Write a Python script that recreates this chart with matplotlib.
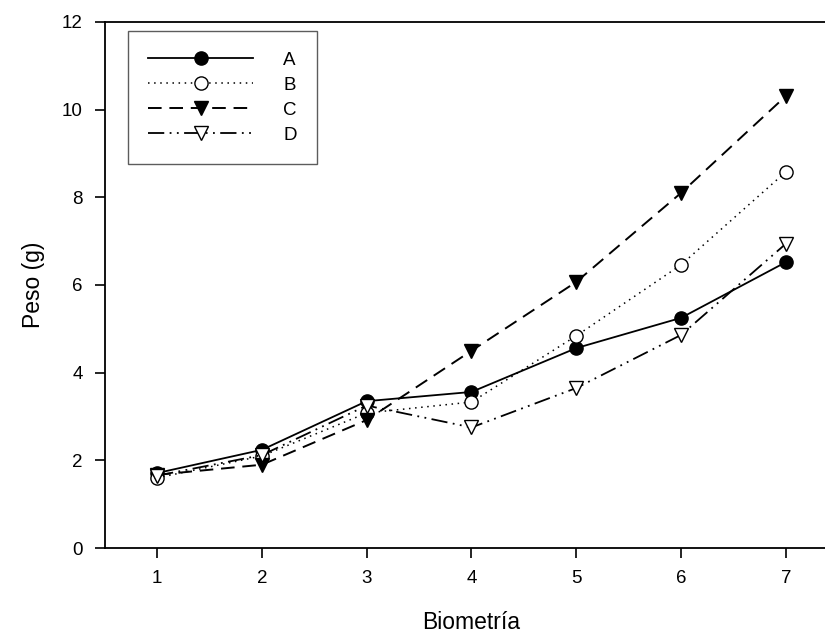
import matplotlib.pyplot as plt

plt.rcParams['font.family'] = ['Liberation Sans', 'DejaVu Sans']

# datos
biometria = [1, 2, 3, 4, 5, 6, 7]
peso_a = [1.71, 2.24, 3.35, 3.56, 4.56, 5.25, 6.52]
peso_b = [1.60, 2.10, 3.08, 3.33, 4.84, 6.46, 8.58]
peso_c = [1.67, 1.90, 2.92, 4.50, 6.07, 8.10, 10.31]
peso_d = [1.65, 2.12, 3.25, 2.75, 3.65, 4.86, 6.94]
y_ticks = [0, 2, 4, 6, 8, 10, 12]

fig = plt.figure(figsize=(8.25, 6.37), dpi=100)
ax = fig.add_axes([0.127, 0.1397, 0.889, 0.8258])

ax.plot(biometria, peso_a, color='black', linestyle='-', linewidth=1.3,
        marker='o', markersize=9.5, markerfacecolor='black', label='A')
ax.plot(biometria, peso_b, color='black', linestyle=(0, (1, 3)), linewidth=1.1,
        marker='o', markersize=9.5, markerfacecolor='white', label='B')
ax.plot(biometria, peso_c, color='black', linestyle=(0, (7, 4)), linewidth=1.4,
        marker='v', markersize=9.5, markerfacecolor='black', label='C')
ax.plot(biometria, peso_d, color='black', linestyle=(0, (9, 3, 1, 3, 1, 3)), linewidth=1.3,
        marker='v', markersize=9.5, markerfacecolor='white', label='D')

ax.set_xlim(0.5, 7.5)
ax.set_ylim(0, 12)
ax.set_xticks(biometria)
ax.set_yticks(y_ticks)
ax.tick_params(direction='out', length=7, width=1.2, labelsize=13.5, pad=9)

for side in ['left', 'bottom', 'top']:
    ax.spines[side].set_linewidth(1.3)
ax.spines['right'].set_visible(False)

ax.set_xlabel('Biometría', fontsize=16.5, labelpad=17)
ax.set_ylabel('Peso (g)', fontsize=16.5, labelpad=12)

leg = ax.legend(loc='upper left', bbox_to_anchor=(0.031, 0.983), borderaxespad=0,
                fancybox=False, edgecolor='#333333', fontsize=13.5, handlelength=5.6,
                handletextpad=1.6, borderpad=1.1, labelspacing=0.42, markerfirst=True)
leg.get_frame().set_linewidth(1.0)

fig.savefig('out.png', dpi=100)
